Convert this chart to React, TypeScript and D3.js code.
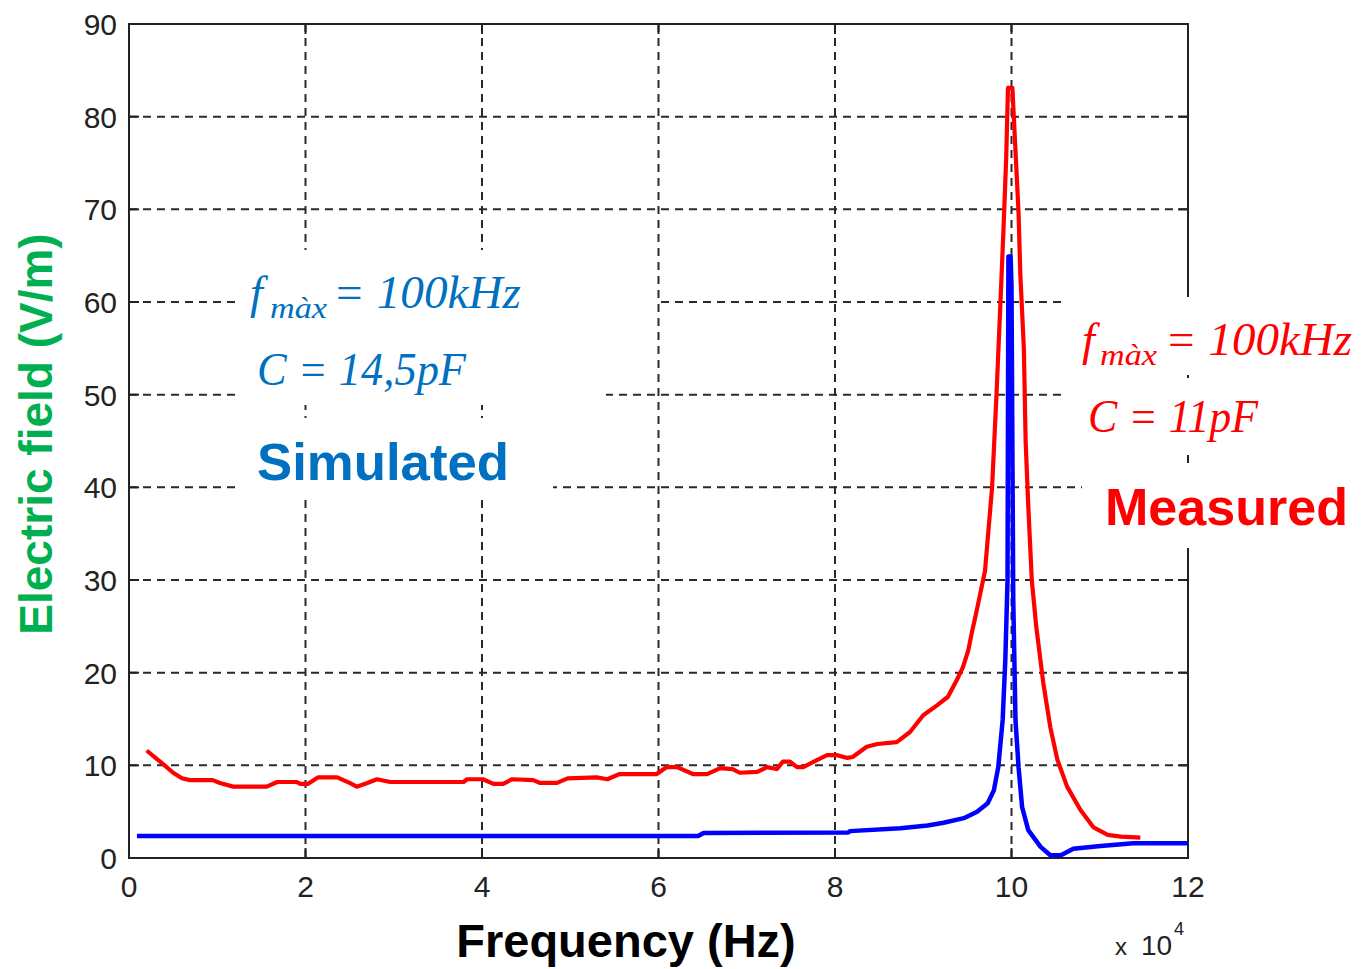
import React from "react";
import * as d3 from "d3";

const xTicks = [0, 2, 4, 6, 8, 10, 12];
const yTicks = [0, 10, 20, 30, 40, 50, 60, 70, 80, 90];

// Measured (red), x in units of 1e4 Hz, y in V/m
const measuredX = [0.2, 0.39, 0.5, 0.6, 0.69, 0.95, 1.03, 1.18, 1.56, 1.68, 1.9, 1.94, 2.03, 2.14, 2.36, 2.5, 2.58, 2.7, 2.81, 2.96, 3.79, 3.83, 4.01, 4.13, 4.24, 4.34, 4.58, 4.66, 4.85, 4.97, 5.3, 5.42, 5.56, 5.98, 6.09, 6.21, 6.39, 6.55, 6.7, 6.84, 6.92, 7.12, 7.23, 7.34, 7.41, 7.49, 7.57, 7.64, 7.8, 7.91, 8.02, 8.14, 8.2, 8.36, 8.48, 8.7, 8.85, 9.0, 9.16, 9.28, 9.38, 9.45, 9.51, 9.55, 9.59, 9.63, 9.7, 9.78, 9.83, 9.875, 9.91, 9.94, 9.96, 10.01, 10.045, 10.08, 10.1, 10.14, 10.16, 10.19, 10.23, 10.28, 10.36, 10.44, 10.52, 10.63, 10.78, 10.93, 11.09, 11.24, 11.46];
const measuredY = [11.6, 10.1, 9.2, 8.6, 8.4, 8.4, 8.1, 7.7, 7.7, 8.2, 8.2, 8.0, 8.0, 8.7, 8.7, 8.1, 7.7, 8.1, 8.5, 8.2, 8.2, 8.5, 8.5, 8.0, 8.0, 8.5, 8.4, 8.1, 8.1, 8.6, 8.7, 8.5, 9.06, 9.06, 9.8, 9.8, 9.06, 9.06, 9.7, 9.6, 9.2, 9.3, 9.8, 9.6, 10.4, 10.4, 9.8, 9.8, 10.6, 11.1, 11.1, 10.8, 10.9, 12.0, 12.3, 12.5, 13.6, 15.4, 16.5, 17.4, 19.2, 20.6, 22.4, 24.3, 26.0, 27.8, 31, 40, 50, 60, 68, 75.6, 83.1, 83.1, 76.4, 69.6, 63, 55, 45, 38, 30, 25, 18.9, 14.1, 10.6, 7.7, 5.2, 3.3, 2.5, 2.3, 2.2];

// Simulated (blue)
const simulatedX = [0.09, 6.45, 6.51, 8.15, 8.17, 8.74, 9.05, 9.23, 9.46, 9.61, 9.73, 9.8, 9.85, 9.9, 9.93, 9.955, 9.965, 9.99, 10.0, 10.02, 10.045, 10.08, 10.12, 10.19, 10.33, 10.44, 10.56, 10.7, 11.01, 11.38, 12.0];
const simulatedY = [2.37, 2.37, 2.7, 2.75, 2.9, 3.2, 3.5, 3.8, 4.3, 5.0, 5.9, 7.3, 9.8, 14.9, 21.4, 30, 64.9, 64.9, 61.8, 27.8, 14.9, 9.8, 5.5, 3.0, 1.2, 0.3, 0.3, 1.0, 1.3, 1.6, 1.6];

const W = 1361;
const H = 969;

export default function App() {
  const x = d3.scaleLinear().domain([0, 12]).range([129, 1188]);
  const y = d3.scaleLinear().domain([0, 90]).range([858, 24]);
  const line = d3
    .line<[number, number]>()
    .x((d) => x(d[0]))
    .y((d) => y(d[1]));
  const measured = measuredX.map((v, i) => [v, measuredY[i]] as [number, number]);
  const simulated = simulatedX.map((v, i) => [v, simulatedY[i]] as [number, number]);
  const [x0, x1] = x.range();
  const [y0, y1] = y.range();
  const gridColor = "#2a2a2a";
  const tickFont = "'Liberation Sans', Arial, sans-serif";
  const mathFont = "'Liberation Serif', 'DejaVu Serif', serif";
  const blue = "#0070c0";
  const red = "#ff0000";

  return (
    <svg
      width={W}
      height={H}
      style={{ position: "absolute", left: 0, top: 0, background: "#fff" }}
    >
      <rect x={0} y={0} width={W} height={H} fill="#fff" />
      {/* grid */}
      <g stroke={gridColor} strokeWidth={2} strokeDasharray="8,6">
        {xTicks.slice(1, -1).map((t) => (
          <line key={"gx" + t} x1={x(t)} x2={x(t)} y1={y0} y2={y1} />
        ))}
        {yTicks.slice(1, -1).map((t) => (
          <line key={"gy" + t} x1={x0} x2={x1} y1={y(t)} y2={y(t)} />
        ))}
      </g>
      {/* ticks */}
      <g stroke="#222" strokeWidth={2}>
        {xTicks.map((t) => (
          <g key={"tx" + t}>
            <line x1={x(t)} x2={x(t)} y1={y0} y2={y0 - 10} />
            <line x1={x(t)} x2={x(t)} y1={y1} y2={y1 + 10} />
          </g>
        ))}
        {yTicks.map((t) => (
          <g key={"ty" + t}>
            <line x1={x0} x2={x0 + 10} y1={y(t)} y2={y(t)} />
            <line x1={x1} x2={x1 - 10} y1={y(t)} y2={y(t)} />
          </g>
        ))}
      </g>
      <rect
        x={x0}
        y={y1}
        width={x1 - x0}
        height={y0 - y1}
        fill="none"
        stroke="#222"
        strokeWidth={2}
      />
      {/* curves */}
      <path d={line(simulated) || ""} fill="none" stroke="#0000ff" strokeWidth={4.5} strokeLinejoin="round" />
      <path d={line(measured) || ""} fill="none" stroke="#ff0000" strokeWidth={4.2} strokeLinejoin="round" />

      {/* white annotation boxes */}
      <g fill="#fff">
        <rect x={237} y={250} width={420} height={85} />
        <rect x={237} y={335} width={369} height={70} />
        <rect x={237} y={418} width={316} height={82} />
        <rect x={1067} y={297} width={294} height={78} />
        <rect x={1067} y={378} width={294} height={77} />
        <rect x={1082} y={463} width={279} height={85} />
      </g>

      {/* tick labels */}
      <g fontFamily={tickFont} fontSize={30} fill="#222">
        {xTicks.map((t) => (
          <text key={"lx" + t} x={x(t)} y={897} textAnchor="middle">
            {t}
          </text>
        ))}
        {yTicks.map((t) => (
          <text key={"ly" + t} x={117} y={y(t) + 11} textAnchor="end">
            {t}
          </text>
        ))}
        <text x={1115} y={955} fontSize={24}>x</text>
        <text x={1141} y={955} fontSize={28}>10</text>
        <text x={1174} y={935} fontSize={18}>4</text>
      </g>

      {/* axis titles */}
      <text
        x={626}
        y={957}
        textAnchor="middle"
        fontFamily={tickFont}
        fontWeight="bold"
        fontSize={47}
        fill="#000"
      >
        Frequency (Hz)
      </text>
      <text
        transform="translate(52,434) rotate(-90)"
        textAnchor="middle"
        fontFamily={tickFont}
        fontWeight="bold"
        fontSize={46}
        fill="#00b050"
      >
        Electric field (V/m)
      </text>

      {/* Simulated annotation */}
      <g fontFamily={mathFont} fontStyle="italic" fill={blue}>
        <text x={250} y={308} fontSize={46}>f</text>
        <text x={270} y={318} fontSize={30} textLength={57} lengthAdjust="spacingAndGlyphs">màx</text>
        <text x={333} y={308} fontSize={46} textLength={188} lengthAdjust="spacingAndGlyphs">= 100kHz</text>
        <text x={257} y={385} fontSize={46} textLength={209} lengthAdjust="spacingAndGlyphs">C = 14,5pF</text>
      </g>
      <text
        x={257}
        y={480}
        fontFamily={tickFont}
        fontWeight="bold"
        fontSize={52}
        fill={blue}
        textLength={252}
        lengthAdjust="spacingAndGlyphs"
      >
        Simulated
      </text>

      {/* Measured annotation */}
      <g fontFamily={mathFont} fontStyle="italic" fill={red}>
        <text x={1082} y={355} fontSize={46}>f</text>
        <text x={1100} y={365} fontSize={30} textLength={57} lengthAdjust="spacingAndGlyphs">màx</text>
        <text x={1165} y={355} fontSize={46} textLength={187} lengthAdjust="spacingAndGlyphs">= 100kHz</text>
        <text x={1088} y={432} fontSize={46} textLength={170} lengthAdjust="spacingAndGlyphs">C = 11pF</text>
      </g>
      <text
        x={1105}
        y={525}
        fontFamily={tickFont}
        fontWeight="bold"
        fontSize={52}
        fill={red}
        textLength={243}
        lengthAdjust="spacingAndGlyphs"
      >
        Measured
      </text>
    </svg>
  );
}
